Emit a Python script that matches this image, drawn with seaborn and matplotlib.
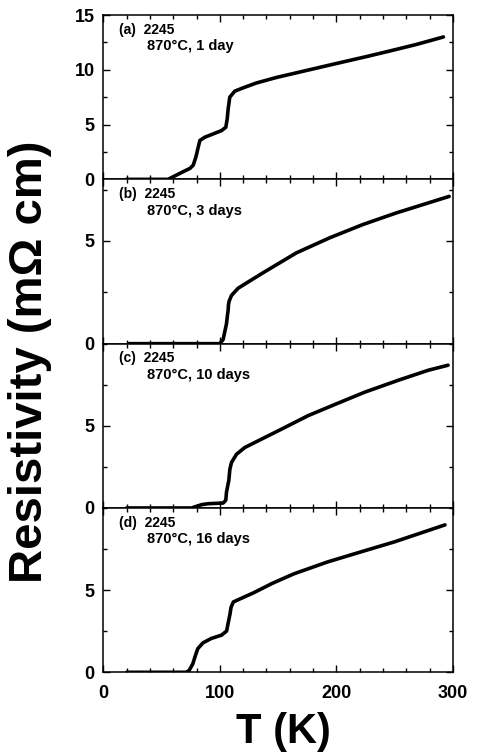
## Resistivity vs temperature of 2245 samples annealed at 870°C for different times (4 stacked panels).

import matplotlib
matplotlib.use("Agg")
import matplotlib.pyplot as plt
from matplotlib.ticker import MultipleLocator
import seaborn as sns

# values
panel_tags = ["(a)", "(b)", "(c)", "(d)"]
sample_name = "2245"
anneal_labels = ["870°C, 1 day", "870°C, 3 days", "870°C, 10 days", "870°C, 16 days"]
y_tops = [15, 8, 10, 10]
y_ticklabels = [[0, 5, 10, 15], [0, 5], [0, 5], [0, 5]]
x_ticklabels = [0, 100, 200, 300]

T_a = [20, 40, 55.6, 63, 68.6, 74.4, 77.2, 79.5, 81.5, 82.9, 87.2, 94.3, 101.4, 105.1,
       106.3, 107.1, 108.5, 112.8, 119.9, 131.4, 148.5, 196.8, 225.4, 245, 268, 291.7]
rho_a = [0, 0, 0, 0.4, 0.7, 1.0, 1.3, 2.05, 2.95, 3.55, 3.85, 4.15, 4.45, 4.75,
         5.5, 6.4, 7.5, 8.05, 8.35, 8.8, 9.3, 10.5, 11.2, 11.7, 12.3, 13.0]

T_b = [22, 60, 100, 102.8, 104.3, 105.7, 106.6, 107.1, 107.4, 108, 110, 115.7, 125.6,
       137, 165.6, 194, 222.6, 251, 296.6]
rho_b = [0, 0, 0, 0.2, 0.6, 0.97, 1.42, 1.62, 1.9, 2.07, 2.35, 2.7, 3.05,
         3.45, 4.42, 5.15, 5.8, 6.36, 7.17]

T_c = [20, 50, 75.8, 80, 84.3, 90, 102.8, 105.1, 105.7, 107.7, 108.6, 110, 114.3,
       121.4, 132.9, 152.9, 175.7, 200, 224.3, 252.9, 278.6, 295.7]
rho_c = [0, 0, 0, 0.1, 0.2, 0.26, 0.3, 0.47, 0.96, 1.68, 2.36, 2.77, 3.27,
         3.68, 4.09, 4.8, 5.62, 6.34, 7.05, 7.77, 8.38, 8.69]

T_d = [20, 45, 70.9, 73.6, 76.8, 79.1, 81.1, 85.5, 92.7, 101.4, 105.8, 107.2, 108.7,
       109.6, 111.6, 117.4, 129, 144.9, 163.4, 192.1, 221, 249.8, 293]
rho_d = [0, 0, 0, 0.1, 0.51, 1.03, 1.44, 1.79, 2.06, 2.26, 2.51, 3.02, 3.54,
         3.95, 4.28, 4.47, 4.84, 5.41, 5.99, 6.71, 7.33, 7.94, 8.97]

temps = [T_a, T_b, T_c, T_d]
rhos = [rho_a, rho_b, rho_c, rho_d]

sns.set_style("ticks")
plt.rcParams['font.family'] = ['Liberation Sans', 'DejaVu Sans']
plt.rcParams['font.weight'] = 'bold'
plt.rcParams['text.color'] = 'black'
plt.rcParams['xtick.color'] = 'black'
plt.rcParams['ytick.color'] = 'black'

fig, axes = plt.subplots(4, 1, figsize=(4.8, 7.52), dpi=100, sharex=True)
fig.subplots_adjust(left=0.215, right=0.944, top=0.98, bottom=0.106, hspace=0)

for i, ax in enumerate(axes):
    sns.lineplot(x=temps[i], y=rhos[i], ax=ax, color='black', lw=2.6, sort=False)
    ax.set_xlim(0, 300)
    ax.set_ylim(0, y_tops[i])
    ax.set_yticks(y_ticklabels[i])
    ax.yaxis.set_minor_locator(MultipleLocator(2.5))
    ax.xaxis.set_minor_locator(MultipleLocator(20))
    ax.set_xticks(x_ticklabels)
    ax.tick_params(which='both', direction='in', top=True, right=True, width=1)
    ax.tick_params(which='major', length=5)
    ax.tick_params(which='minor', length=3)
    ax.tick_params(axis='y', labelsize=13, pad=6)
    ax.tick_params(axis='x', labelsize=13, pad=9)
    for s in ax.spines.values():
        s.set_linewidth(1.1)
        s.set_color('black')

    ax.text(0.045, 0.91, f"{panel_tags[i]}  {sample_name}", transform=ax.transAxes,
            fontsize=10, fontweight='bold', va='center', ha='left')
    ax.text(0.125, 0.81, anneal_labels[i], transform=ax.transAxes,
            fontsize=10.5, fontweight='bold', va='center', ha='left')

fig.text(0.59, 0.027, "T (K)", fontsize=30, fontweight='bold', ha='center', va='center')
fig.text(0.062, 0.519, "Resistivity (mΩ cm)", fontsize=34, fontweight='bold',
         rotation=90, ha='center', va='center')

plt.savefig('out.png', dpi=100)
